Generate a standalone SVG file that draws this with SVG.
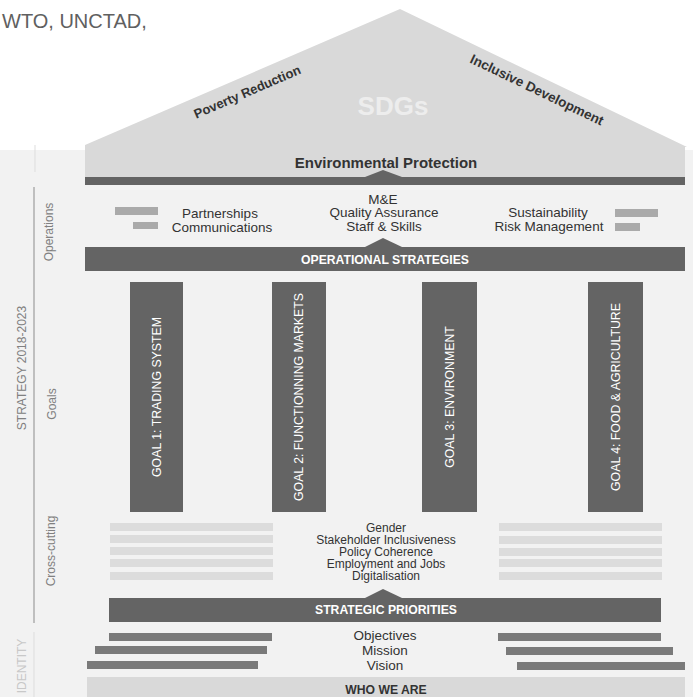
<svg xmlns="http://www.w3.org/2000/svg" width="693" height="697" viewBox="0 0 693 697">
<style>
text{font-family:"Liberation Sans",Arial,sans-serif}
.dark{fill:#646464}
.roof{fill:#d9d9d9}
.lbl{font-size:12px;fill:#808080}
.bw{font-weight:bold;fill:#ffffff;font-size:12.2px;text-anchor:middle}
.b{font-weight:bold;fill:#333333;text-anchor:middle}
.t{font-size:13.5px;fill:#333333;text-anchor:middle}
.s{font-size:12px;fill:#333333;text-anchor:middle}
.g{font-size:12.3px;fill:#ffffff;text-anchor:middle}
.stripe{fill:#dcdcdc}
.opbar{fill:#aaaaaa}
.idbar{fill:#7a7a7a}
</style>
<rect x="0" y="0" width="693" height="697" fill="#ffffff"/>
<rect x="0" y="150" width="693" height="547" fill="#f2f2f2"/>
<text x="2" y="28" font-size="20" fill="#606060">WTO, UNCTAD,</text>

<g id="sidebar">
<line x1="35" y1="145" x2="35" y2="172" stroke="#dddddd" stroke-width="1"/>
<line x1="34" y1="187" x2="34" y2="623" stroke="#8c8c8c" stroke-width="1"/>
<line x1="34" y1="632" x2="34" y2="697" stroke="#dddddd" stroke-width="1"/>
<text class="lbl" transform="translate(26,368) rotate(-90)" text-anchor="middle">STRATEGY 2018-2023</text>
<text class="lbl" transform="translate(53,232) rotate(-90)" text-anchor="middle">Operations</text>
<text class="lbl" transform="translate(56,404) rotate(-90)" text-anchor="middle">Goals</text>
<text class="lbl" transform="translate(55,551) rotate(-90)" text-anchor="middle">Cross-cutting</text>
<text class="lbl" transform="translate(26,666) rotate(-90)" text-anchor="middle" style="fill:#c8c8c8">IDENTITY</text>
</g>

<g id="roof">
<polygon class="roof" points="85,145 400,9 687,147 685,147 685,177 85,177"/>
<text x="393" y="115" font-size="26" font-weight="bold" fill="#ededed" text-anchor="middle">SDGs</text>
<text class="b" font-size="13" transform="translate(249,96) rotate(-23.4)">Poverty Reduction</text>
<text class="b" font-size="13.5" transform="translate(535,94) rotate(25.7)">Inclusive Development</text>
<text class="b" x="386" y="168" font-size="15">Environmental Protection</text>
<polygon class="dark" points="365,177 383,170 402,177"/>
<rect class="dark" x="85" y="177" width="600" height="8"/>
</g>

<g id="operations">
<rect class="opbar" x="115" y="207" width="43" height="8"/>
<rect class="opbar" x="133" y="222" width="25" height="7"/>
<text class="t" x="220" y="218">Partnerships</text>
<text class="t" x="222" y="232">Communications</text>
<text class="t" x="383" y="204">M&amp;E</text>
<text class="t" x="384" y="217">Quality Assurance</text>
<text class="t" x="384" y="231">Staff &amp; Skills</text>
<text class="t" x="548" y="217">Sustainability</text>
<text class="t" x="549" y="231">Risk Management</text>
<rect class="opbar" x="615" y="209" width="43" height="8"/>
<rect class="opbar" x="615" y="223" width="25" height="8"/>
<polygon class="dark" points="365,247 383,238 402,247"/>
</g>

<g id="operational-strategies">
<rect class="dark" x="85" y="247" width="600" height="24"/>
<text class="bw" x="385" y="264">OPERATIONAL STRATEGIES</text>
</g>

<g id="goal1">
<rect class="dark" x="130" y="282" width="53" height="230"/>
<text class="g" transform="translate(161,397) rotate(-90)">GOAL 1: TRADING SYSTEM</text>
</g>
<g id="goal2">
<rect class="dark" x="272" y="282" width="54" height="230"/>
<text class="g" transform="translate(303,397) rotate(-90)">GOAL 2: FUNCTIONNING MARKETS</text>
</g>
<g id="goal3">
<rect class="dark" x="422" y="282" width="55" height="230"/>
<text class="g" transform="translate(454,397) rotate(-90)">GOAL 3: ENVIRONMENT</text>
</g>
<g id="goal4">
<rect class="dark" x="588" y="282" width="55" height="230"/>
<text class="g" transform="translate(620,397) rotate(-90)">GOAL 4: FOOD &amp; AGRICULTURE</text>
</g>

<g id="cross-cutting">
<rect class="stripe" x="110" y="523" width="163" height="8"/>
<rect class="stripe" x="110" y="535" width="163" height="8"/>
<rect class="stripe" x="110" y="547" width="163" height="8"/>
<rect class="stripe" x="110" y="559" width="163" height="8"/>
<rect class="stripe" x="110" y="572" width="163" height="8"/>
<rect class="stripe" x="499" y="523" width="163" height="8"/>
<rect class="stripe" x="499" y="536" width="163" height="8"/>
<rect class="stripe" x="499" y="548" width="163" height="8"/>
<rect class="stripe" x="499" y="559" width="163" height="8"/>
<rect class="stripe" x="499" y="572" width="163" height="8"/>
<text class="s" x="386" y="532">Gender</text>
<text class="s" x="386" y="544">Stakeholder Inclusiveness</text>
<text class="s" x="386" y="556">Policy Coherence</text>
<text class="s" x="386" y="568">Employment and Jobs</text>
<text class="s" x="386" y="580">Digitalisation</text>
<polygon class="dark" points="365,598 383,589 402,598"/>
</g>

<g id="strategic-priorities">
<rect class="dark" x="109" y="598" width="552" height="24"/>
<text class="bw" x="386" y="614">STRATEGIC PRIORITIES</text>
</g>

<g id="identity">
<rect class="idbar" x="109" y="633" width="163" height="8"/>
<rect class="idbar" x="95" y="646" width="172" height="8"/>
<rect class="idbar" x="87" y="661" width="171" height="8"/>
<rect class="idbar" x="498" y="633" width="163" height="8"/>
<rect class="idbar" x="506" y="647" width="167" height="8"/>
<rect class="idbar" x="517" y="662" width="168" height="8"/>
<text class="t" x="385" y="640">Objectives</text>
<text class="t" x="385" y="655">Mission</text>
<text class="t" x="385" y="670">Vision</text>
</g>

<g id="who-we-are">
<rect class="roof" x="87" y="677" width="598" height="20"/>
<text class="b" x="386" y="694" font-size="12.2">WHO WE ARE</text>
</g>
</svg>
